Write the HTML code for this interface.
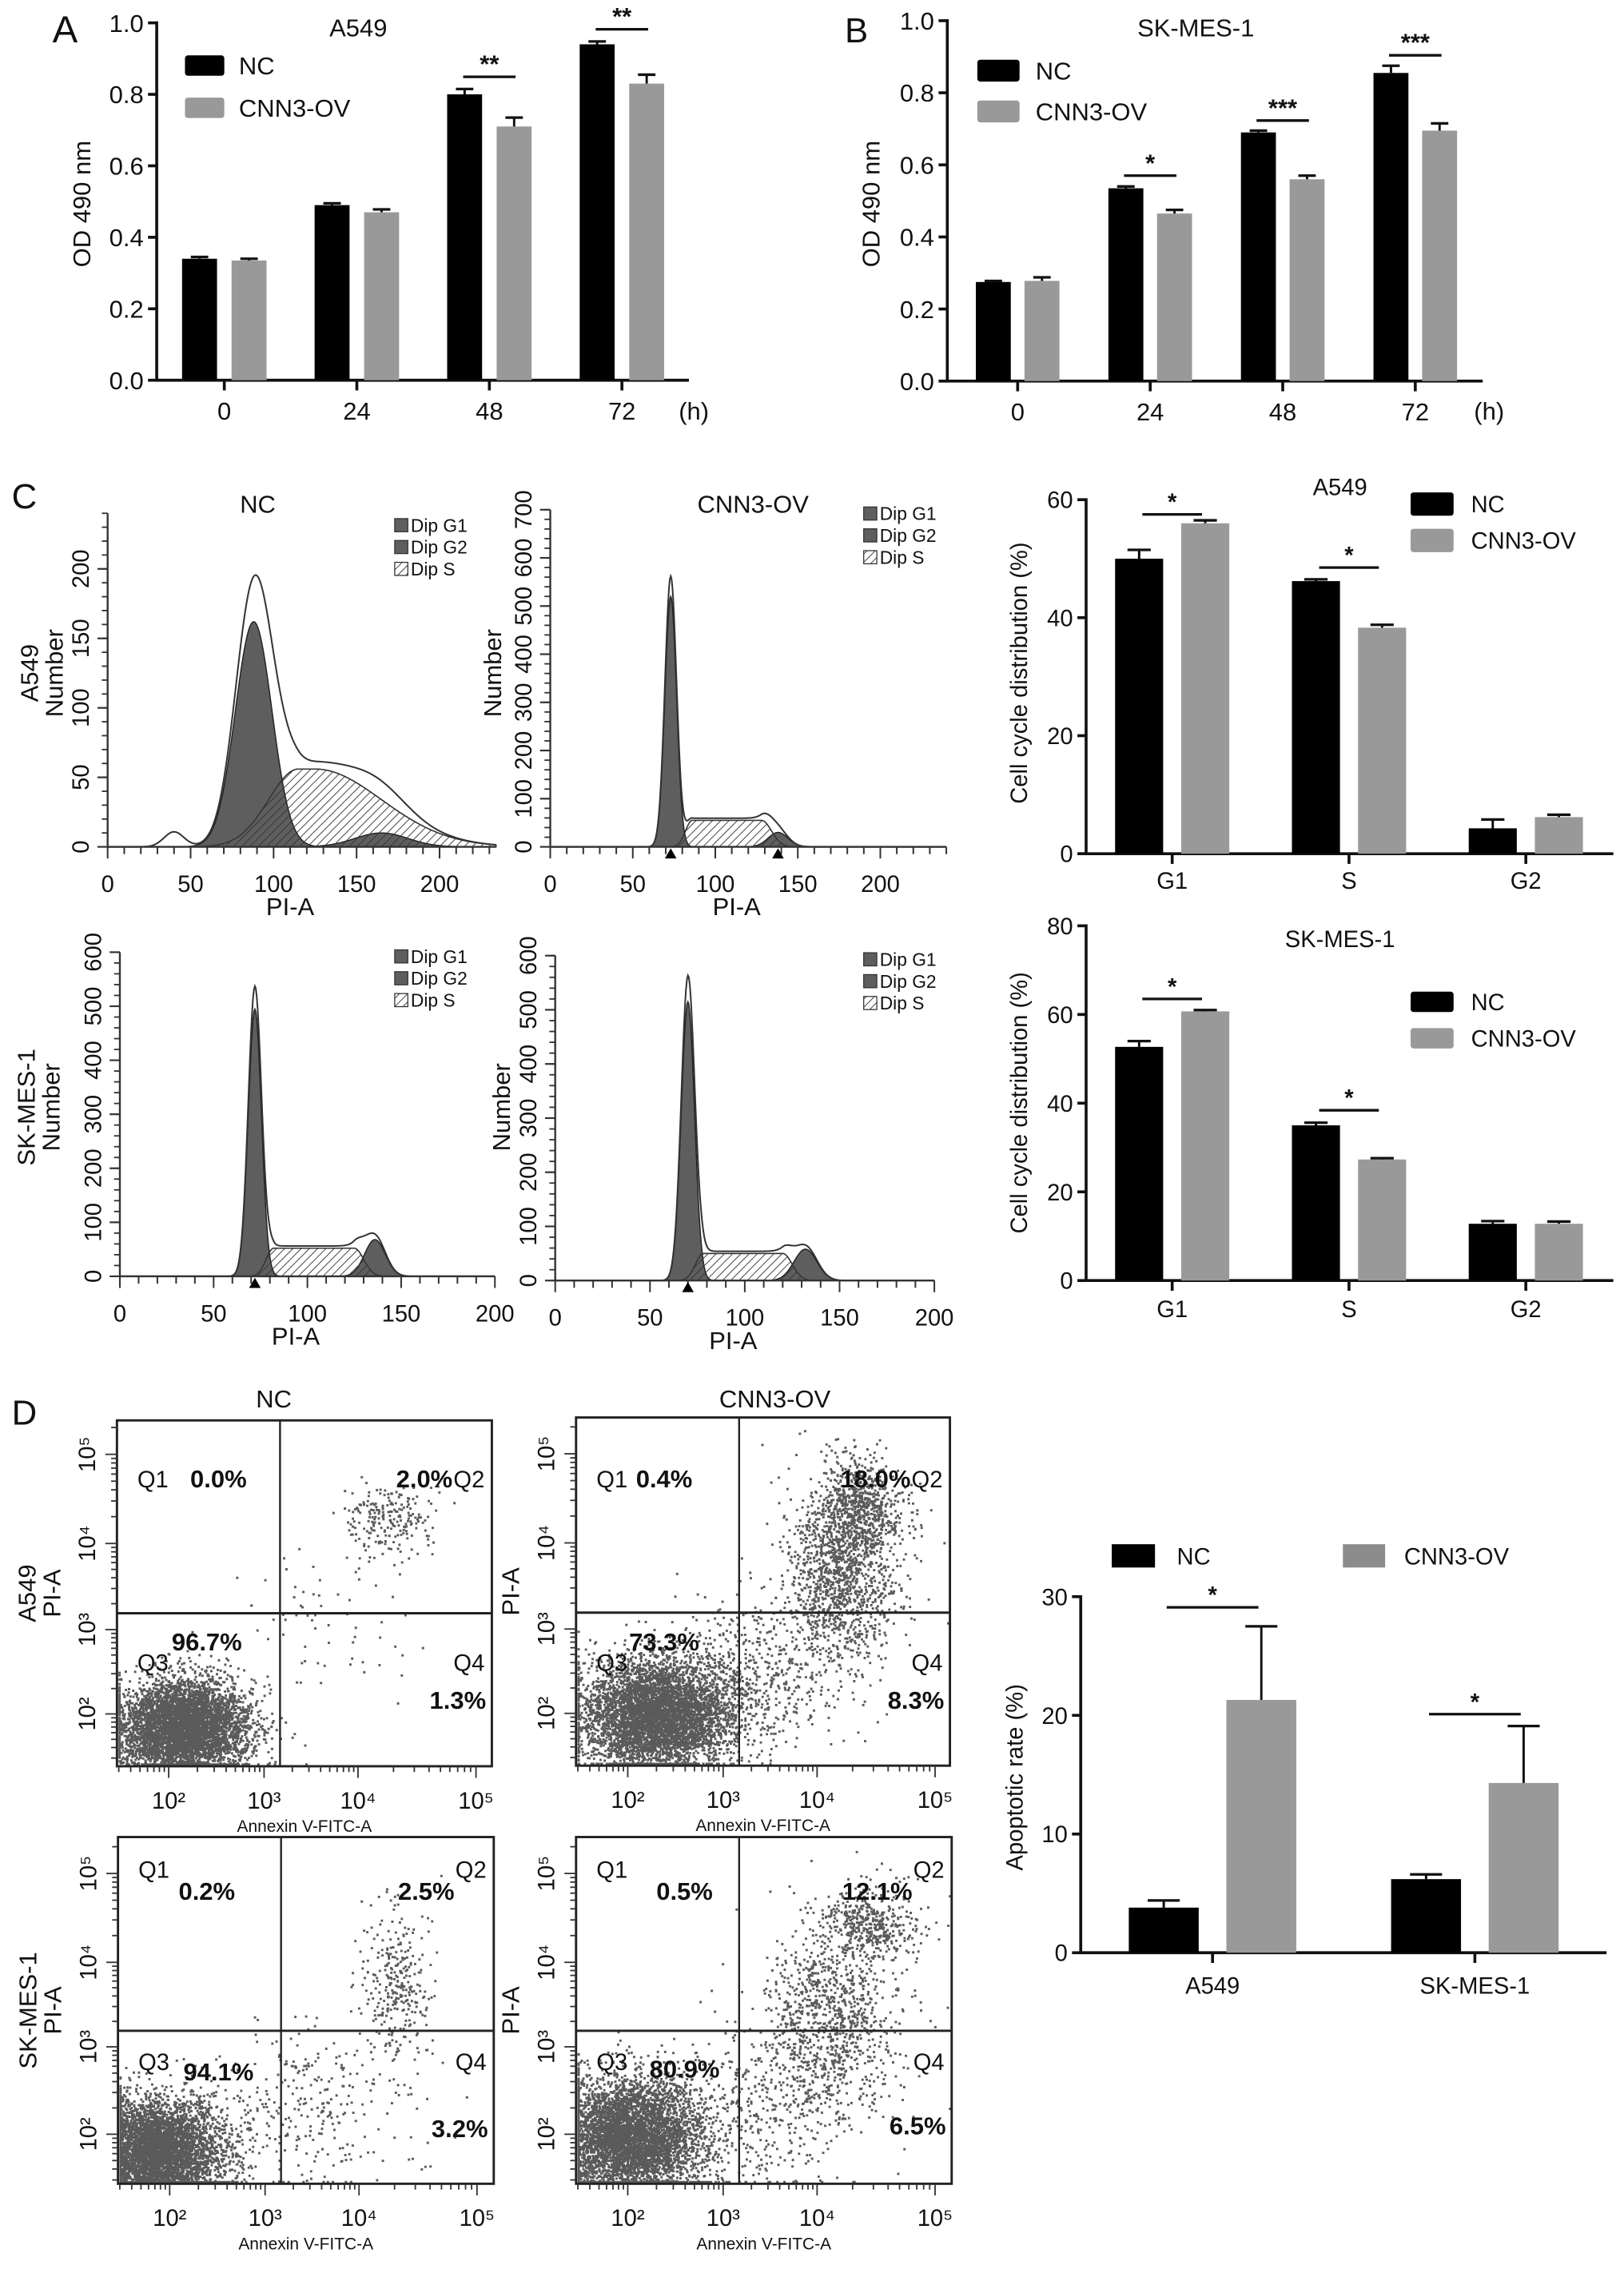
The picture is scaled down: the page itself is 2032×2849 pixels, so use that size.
<!DOCTYPE html>
<html><head><meta charset="utf-8">
<style>
html,body{margin:0;padding:0;background:#fff;}
svg{display:block;}
text{font-family:"Liberation Sans",Arial,sans-serif;fill:#111;}
</style></head>
<body>
<svg id="fig" xmlns="http://www.w3.org/2000/svg" width="2032" height="2849" viewBox="0 0 1115 1563" preserveAspectRatio="none">
<defs>
<pattern id="hatch" patternUnits="userSpaceOnUse" width="4" height="4" patternTransform="rotate(45)">
<line x1="0" y1="0" x2="0" y2="4" stroke="#333" stroke-width="1"/>
</pattern>
</defs>
<rect x="0" y="0" width="1115" height="1563" fill="#fff"/>
</svg>
<script>
// ===== Panel A data =====
const aCats = ['0','24','48','72'];
const aNC = [0.34, 0.49, 0.80, 0.94];
const aOV = [0.335, 0.47, 0.71, 0.83];
const aNCerr = [0.005, 0.005, 0.015, 0.008];
const aOVerr = [0.005, 0.008, 0.025, 0.025];
const aSigIdx = [2, 3];
const aSigLbl = ['**', '**'];
const aSigVal = [0.849, 0.982];
const aTicks = [0, 0.2, 0.4, 0.6, 0.8, 1.0];
// ===== Panel B data =====
const bCats = ['0','24','48','72'];
const bNC = [0.275, 0.535, 0.69, 0.855];
const bOV = [0.278, 0.465, 0.56, 0.695];
const bNCerr = [0.003, 0.005, 0.005, 0.02];
const bOVerr = [0.01, 0.01, 0.01, 0.02];
const bSigIdx = [1, 2, 3];
const bSigLbl = ['*', '***', '***'];
const bSigVal = [0.570, 0.723, 0.904];
const bTicks = [0, 0.2, 0.4, 0.6, 0.8, 1.0];
// ===== Panel C bar charts =====
const cCats = ['G1','S','G2'];
const c1NC = [50.0, 46.2, 4.3];
const c1OV = [56.0, 38.3, 6.2];
const c1NCerr = [1.5, 0.3, 1.5];
const c1OVerr = [0.5, 0.5, 0.4];
const c1SigIdx = [0, 1];
const c1SigVal = [57.5, 48.5];
const c1Ticks = [0, 20, 40, 60];
const c2NC = [52.7, 35.0, 12.8];
const c2OV = [60.7, 27.3, 12.8];
const c2NCerr = [1.3, 0.6, 0.6];
const c2OVerr = [0.3, 0.3, 0.5];
const c2SigIdx = [0, 1];
const c2SigVal = [63.5, 38.4];
const c2Ticks = [0, 20, 40, 60, 80];
// ===== Panel D bar chart =====
const dCats = ['A549','SK-MES-1'];
const dNC = [3.8, 6.2];
const dOV = [21.3, 14.3];
const dNCerr = [0.6, 0.4];
const dOVerr = [6.2, 4.8];
const dSigIdx = [0, 1];
const dSigVal = [29.1, 20.1];
const dTicks = [0, 10, 20, 30];
// ===== Histogram model params: [G1 mu, G1 sd, G1 h, G2 mu, G2 sd, G2 h, S a, S b, S h, S eL, S eR] =====
const hParamsTL = [88, 11, 162, 165, 16, 10, 115, 125, 56, 18, 40];
const hParamsTR = [73, 3.5, 520, 138, 6, 30, 86, 128, 55, 4, 6];
const hParamsBL = [72, 3.5, 495, 136, 5.5, 68, 82, 125, 52, 4, 5];
const hParamsBR = [70, 3.5, 515, 132, 6, 58, 78, 120, 50, 4, 5];
const hDebrisTL = [40, 6, 10];
const hMarkersTR = [73, 138];
const hMarkersBL = [72];
const hMarkersBR = [70];
// ===== Flow cytometry clusters: [xLog, yLog, sdX, sdY, count] =====
const fTL = [[2.15,1.85,0.33,0.28,5200],[4.25,4.25,0.2,0.25,220],[3.6,3.0,0.45,0.55,70]];
const fTR = [[2.3,2.0,0.4,0.33,5200],[4.2,3.6,0.25,0.55,1300],[4.35,4.4,0.18,0.28,700],[3.3,2.5,0.45,0.45,500]];
const fBL = [[1.85,1.8,0.35,0.3,5200],[4.3,3.7,0.15,0.5,320],[3.5,2.3,0.5,0.5,280]];
const fBR = [[2.0,1.95,0.4,0.35,5200],[4.45,4.45,0.2,0.2,400],[4.1,3.4,0.3,0.6,1000],[3.4,2.4,0.5,0.5,450]];
const fPctTL = ['0.0%','2.0%','96.7%','1.3%'];
const fPctTR = ['0.4%','18.0%','73.3%','8.3%'];
const fPctBL = ['0.2%','2.5%','94.1%','3.2%'];
const fPctBR = ['0.5%','12.1%','80.9%','6.5%'];
const fGate = [3.17, 3.19];

const NS = 'http://www.w3.org/2000/svg';
const svg = document.getElementById('fig');
function mk(tag, attrs, txt) {
  const e = document.createElementNS(NS, tag);
  for (const k in attrs) e.setAttribute(k, attrs[k]);
  if (txt !== undefined) e.textContent = txt;
  svg.appendChild(e);
  return e;
}
function line(x1,y1,x2,y2,w,name,col){
  const e = mk('line',{x1:x1,y1:y1,x2:x2,y2:y2,stroke:col||'#111','stroke-width':w});
  
  
  return e;
}
function txt(x,y,s,size,name,extra){
  const a = {x:x,y:y,'font-size':size};
  for (const k in (extra||{})) a[k]=extra[k];
  const e = mk('text',a,s);
  
  
  return e;
}

// ===== generic grouped bar chart =====
function barChart(c, cats, nc, ov, ncE, ovE, sigIdx, sigLbl, sigVal, ticks, pre) {
  const ys = v => c.y0 - v / c.max * (c.y0 - c.yTop);
  const cx = i => c.cx0 + i * c.step;
  line(c.x0, c.y0, c.x0, c.yTop - 1, c.aw, pre + '-y-axis');
  line(c.x0 - 1, c.y0, c.x1, c.y0, c.aw, pre + '-x-axis');
  ticks.forEach(t => {
    line(c.x0 - 6, ys(t), c.x0, ys(t), c.aw, pre + '-y-tick');
    txt(c.x0 - 9, ys(t) + c.fs * 0.36, c.fmt(t), c.fs, pre + '-y-tick-label', {'text-anchor':'end'});
  });
  cats.forEach((s, i) => {
    line(cx(i), c.y0, cx(i), c.y0 + 7, c.aw, pre + '-x-tick');
    txt(cx(i), c.y0 + c.xlOff, s, c.fs, pre + '-x-tick-label', {'text-anchor':'middle'});
  });
  const series = [[nc, ncE, -c.off, '#000', 'nc'], [ov, ovE, c.off, '#999', 'ov']];
  series.forEach(sr => {
    sr[0].forEach((v, i) => {
      const x = cx(i) + sr[2];
      const b = mk('rect', {x: x - c.bw / 2, y: ys(v), width: c.bw, height: c.y0 - ys(v), fill: sr[3]});
      
      
      const top = ys(v + sr[1][i]);
      line(x, ys(v), x, top, 1.6, pre + '-error-bar', sr[4]==='nc'?'#000':'#111');
      line(x - c.cap, top, x + c.cap, top, 1.8, pre + '-error-cap');
    });
  });
  sigIdx.forEach((ci, k) => {
    const y = ys(sigVal[k]);
    const mid = cx(ci) + (c.sigShift || 0);
    line(mid - c.sw, y, mid + c.sw, y, 1.8, pre + '-significance-line');
    txt(mid, y - 3, sigLbl ? sigLbl[k] : '*', c.fs, pre + '-significance-star', {'text-anchor':'middle','font-weight':'bold'});
  });
  return {ys: ys, cx: cx};
}
function legendV(x, y1, y2, w, h, lx, fs, pre) {
  let r = mk('rect', {x:x, y:y1, width:w, height:h, fill:'#000', rx:2});
  
  
  txt(lx, y1 + h / 2 + fs * 0.36, 'NC', fs, pre + '-legend-label-nc');
  r = mk('rect', {x:x, y:y2, width:w, height:h, fill:'#999', rx:2});
  
  
  txt(lx, y2 + h / 2 + fs * 0.36, 'CNN3-OV', fs, pre + '-legend-label-cnn3-ov');
}
function rotText(x, y, s, size, name) {
  const e = txt(0, 0, s, size, name, {'text-anchor':'middle', transform:'translate(' + x + ',' + y + ') rotate(-90)'});
  return e;
}

// ---- Panel A ----
txt(36, 29, 'A', 26, 'panel-label-a');
barChart({x0:107.6,x1:473,y0:261,yTop:15.7,max:1,cx0:154,step:91,bw:24,off:17,cap:6,sw:18,aw:2,fs:17,xlOff:27,fmt:t=>t.toFixed(1),sigShift:0},
  aCats, aNC, aOV, aNCerr, aOVerr, aSigIdx, aSigLbl, aSigVal, aTicks, 'a549-od');
txt(246, 25, 'A549', 17, 'a549-od-title', {'text-anchor':'middle'});
txt(466, 288, '(h)', 17, 'a549-od-x-unit');
rotText(62, 140, 'OD 490 nm', 17, 'a549-od-y-title');
legendV(127, 38, 67, 27, 14, 164, 17, 'a549-od');

// ---- Panel B ----
txt(580, 29, 'B', 24, 'panel-label-b');
barChart({x0:650.4,x1:1018,y0:261.6,yTop:14.2,max:1,cx0:698.7,step:91,bw:24,off:16.7,cap:6,sw:18,aw:2,fs:17,xlOff:27,fmt:t=>t.toFixed(1),sigShift:0},
  bCats, bNC, bOV, bNCerr, bOVerr, bSigIdx, bSigLbl, bSigVal, bTicks, 'skmes-od');
txt(821, 25, 'SK-MES-1', 17, 'skmes-od-title', {'text-anchor':'middle'});
txt(1012, 288, '(h)', 17, 'skmes-od-x-unit');
rotText(604, 140, 'OD 490 nm', 17, 'skmes-od-y-title');
legendV(671, 41, 69, 29, 15, 711, 17, 'skmes-od');

// ---- Panel C bar charts ----
txt(8, 349, 'C', 24, 'panel-label-c');
barChart({x0:745.7,x1:1107.7,y0:586,yTop:343,max:60,cx0:804.8,step:121.4,bw:33,off:22.7,cap:8,sw:20.5,aw:2,fs:16,xlOff:24,fmt:t=>String(t),sigShift:0},
  cCats, c1NC, c1OV, c1NCerr, c1OVerr, c1SigIdx, null, c1SigVal, c1Ticks, 'a549-cycle');
txt(920, 340, 'A549', 16, 'a549-cycle-title', {'text-anchor':'middle'});
rotText(705, 462, 'Cell cycle distribution (%)', 16, 'a549-cycle-y-title');
legendV(968.5, 338, 363, 29.5, 16, 1010, 16, 'a549-cycle');
barChart({x0:745.7,x1:1107.7,y0:879,yTop:635.5,max:80,cx0:804.8,step:121.4,bw:33,off:22.7,cap:8,sw:20.5,aw:2,fs:16,xlOff:25,fmt:t=>String(t),sigShift:0},
  cCats, c2NC, c2OV, c2NCerr, c2OVerr, c2SigIdx, null, c2SigVal, c2Ticks, 'skmes-cycle');
txt(920, 650, 'SK-MES-1', 16, 'skmes-cycle-title', {'text-anchor':'middle'});
rotText(705, 757, 'Cell cycle distribution (%)', 16, 'skmes-cycle-y-title');
legendV(968.5, 680.7, 705.7, 29.5, 14, 1010, 16, 'skmes-cycle');

// ---- Panel D bar chart ----
barChart({x0:742,x1:1103,y0:1340.4,yTop:1096,max:30,cx0:832.5,step:180.1,bw:48,off:33.5,cap:11,sw:31.5,aw:2,fs:16,xlOff:28,fmt:t=>String(t),sigShift:0},
  dCats, dNC, dOV, dNCerr, dOVerr, dSigIdx, null, dSigVal, dTicks, 'apoptosis');
rotText(702, 1220, 'Apoptotic rate (%)', 16, 'apoptosis-y-title');
(function(){
  let r = mk('rect',{x:763.3,y:1060,width:29.7,height:16,fill:'#000'});
  
  
  txt(808, 1074, 'NC', 16, 'apoptosis-legend-label-nc');
  r = mk('rect',{x:922,y:1060,width:29,height:16,fill:'#8c8c8c'});
  
  
  txt(964, 1074, 'CNN3-OV', 16, 'apoptosis-legend-label-cnn3-ov');
})();

// ===== Histograms =====
function comps(p, x) {
  const g1 = p[2] * Math.exp(-0.5 * Math.pow((x - p[0]) / p[1], 2));
  const g2 = p[5] * Math.exp(-0.5 * Math.pow((x - p[3]) / p[4], 2));
  let s;
  if (x < p[6]) s = p[8] * Math.exp(-0.5 * Math.pow((x - p[6]) / p[9], 2));
  else if (x > p[7]) s = p[8] * Math.exp(-0.5 * Math.pow((x - p[7]) / p[10], 2));
  else s = p[8];
  return [g1, g2, s];
}
function histogram(c, p, debris, markers, pre) {
  const X = v => c.ox + v * c.xs;
  const Y = v => c.oy - v * c.ys;
  const areaPath = (f) => {
    let d = 'M' + X(0) + ' ' + Y(0);
    for (let x = 0; x <= c.xmax; x += 0.5) d += ' L' + X(x).toFixed(2) + ' ' + Y(f(x)).toFixed(2);
    return d + ' L' + X(c.xmax) + ' ' + Y(0) + ' Z';
  };
  let e = mk('path', {d: areaPath(x => comps(p, x)[2]), fill:'#fff', stroke:'#333','stroke-width':0.8});
  
  
  e = mk('path', {d: areaPath(x => comps(p, x)[0]), fill:'#5e5e5e', stroke:'#222','stroke-width':0.8});
  
  
  e = mk('path', {d: areaPath(x => comps(p, x)[1]), fill:'#5e5e5e', stroke:'#222','stroke-width':0.8});
  
  
  e = mk('path', {d: areaPath(x => comps(p, x)[2]), fill:'url(#hatch)', stroke:'#333','stroke-width':0.8});
  
  
  let d = '';
  for (let x = 0; x <= c.xmax; x += 0.5) {
    const cc = comps(p, x);
    let v = cc[0] + cc[1] + cc[2];
    if (debris) v += debris[2] * Math.exp(-0.5 * Math.pow((x - debris[0]) / debris[1], 2));
    v = v * 1.08;
    d += (d ? ' L' : 'M') + X(x).toFixed(2) + ' ' + Y(v).toFixed(2);
  }
  e = mk('path', {d: d, fill:'none', stroke:'#333','stroke-width':1.1});
  
  
  // axes
  line(c.ox, c.oy, c.ox, Y(c.ytop), 1.3, pre + '-y-axis', '#333');
  line(c.ox, c.oy, X(c.xmax), c.oy, 1.3, pre + '-x-axis', '#333');
  for (let v = 0; v <= c.ytop; v += c.yminor) line(c.ox - 4, Y(v), c.ox, Y(v), 1, pre + '-y-minor-tick', '#333');
  c.yticks.forEach(v => {
    line(c.ox - 7, Y(v), c.ox, Y(v), 1.2, pre + '-y-tick', '#333');
    rotText(c.ox - 13, Y(v), String(v), 16, pre + '-y-tick-label');
  });
  for (let v = 0; v <= c.xmax; v += 10) line(X(v), c.oy, X(v), c.oy + (v % 50 === 0 ? 8 : 5), 1.1, pre + '-x-tick', '#333');
  c.xticks.forEach(v => txt(X(v), c.oy + 31, String(v), 16, pre + '-x-tick-label', {'text-anchor':'middle'}));
  txt((c.ox + X(c.xmax)) / 2 - 8, c.oy + 47, 'PI-A', 17, pre + '-x-title', {'text-anchor':'middle'});
  markers.forEach(m => {
    e = mk('path', {d: 'M' + (X(m) - 4) + ' ' + (c.oy + 8) + ' L' + X(m) + ' ' + (c.oy + 1) + ' L' + (X(m) + 4) + ' ' + (c.oy + 8) + ' Z', fill:'#000'});
    
    
  });
  // legend
  const lab = ['Dip G1','Dip G2','Dip S'];
  lab.forEach((s, i) => {
    const y = c.ly + i * 15;
    e = mk('rect', {x: c.lx, y: y - 9, width: 9, height: 9, fill: i < 2 ? '#5e5e5e' : 'url(#hatch)', stroke:'#333','stroke-width':0.7});
    
    
    txt(c.lx + 11, y, s, 12.5, pre + '-legend-label');
  });
}
histogram({ox:73.9,xs:1.1395,oy:581.3,ys:0.954,xmax:234,ytop:240,yminor:10,yticks:[0,50,100,150,200],xticks:[0,50,100,150,200],lx:271,ly:365},
  hParamsTL, hDebrisTL, [], 'a549-nc-hist');
histogram({ox:377.8,xs:1.133,oy:581.3,ys:0.3306,xmax:240,ytop:700,yminor:20,yticks:[0,100,200,300,400,500,600,700],xticks:[0,50,100,150,200],lx:593,ly:357},
  hParamsTR, null, hMarkersTR, 'a549-ov-hist');
histogram({ox:82.3,xs:1.2875,oy:876.1,ys:0.3708,xmax:200,ytop:600,yminor:20,yticks:[0,100,200,300,400,500,600],xticks:[0,50,100,150,200],lx:271,ly:661},
  hParamsBL, null, hMarkersBL, 'skmes-nc-hist');
histogram({ox:381.2,xs:1.3015,oy:879,ys:0.3717,xmax:200,ytop:600,yminor:20,yticks:[0,100,200,300,400,500,600],xticks:[0,50,100,150,200],lx:593,ly:663},
  hParamsBR, null, hMarkersBR, 'skmes-ov-hist');
txt(177, 352, 'NC', 17, 'cycle-nc-title', {'text-anchor':'middle'});
txt(517, 352, 'CNN3-OV', 17, 'cycle-ov-title', {'text-anchor':'middle'});
rotText(26, 462, 'A549', 17, 'a549-hist-row-label');
rotText(43, 462, 'Number', 17, 'a549-nc-hist-y-title');
rotText(344, 462, 'Number', 17, 'a549-ov-hist-y-title');
rotText(24, 760, 'SK-MES-1', 17, 'skmes-hist-row-label');
rotText(41, 760, 'Number', 17, 'skmes-nc-hist-y-title');
rotText(350, 760, 'Number', 17, 'skmes-ov-hist-y-title');

// ===== Flow cytometry plots =====
let seed = 12345;
function rnd() { seed |= 0; seed = seed + 0x6D2B79F5 | 0; let t = Math.imul(seed ^ seed >>> 15, 1 | seed); t = t + Math.imul(t ^ t >>> 7, 61 | t) ^ t; return ((t ^ t >>> 14) >>> 0) / 4294967296; }
function gauss() { let u = 0, v = 0; while (u === 0) u = rnd(); v = rnd(); return Math.sqrt(-2 * Math.log(u)) * Math.cos(2 * Math.PI * v); }
const fxDec = [2,3,4,5], fxOff = [35.5,101,165.5,246.5];
function interp(v, decs, offs) {
  if (v <= decs[0]) return offs[0] + (v - decs[0]) * (offs[1] - offs[0]);
  for (let i = 0; i < decs.length - 1; i++) if (v <= decs[i + 1]) return offs[i] + (v - decs[i]) / (decs[i + 1] - decs[i]) * (offs[i + 1] - offs[i]);
  const n = decs.length - 1;
  return offs[n] + (v - decs[n]) * (offs[n] - offs[n - 1]);
}
function flowPlot(c, clusters, pct, pre, rowLabel) {
  const W = c.x1 - c.x0, H = c.y1 - c.y0;
  const X = lv => c.x0 + interp(lv, fxDec, fxOff);
  const Y = lv => c.y1 - interp(lv, fxDec, c.yOffRev);
  // dots
  let d = '';
  clusters.forEach(cl => {
    for (let i = 0; i < cl[4]; i++) {
      let px = X(cl[0] + gauss() * cl[2]), py = Y(cl[1] + gauss() * cl[3]);
      px = Math.min(Math.max(px, c.x0 + 1), c.x1 - 2);
      py = Math.min(Math.max(py, c.y0 + 1), c.y1 - 2);
      d += 'M' + px.toFixed(1) + ' ' + py.toFixed(1) + 'h1.6v1.6h-1.6z';
    }
  });
  let e = mk('path', {d: d, fill:'#5a5a5a'});
  
  
  e = mk('rect', {x:c.x0, y:c.y0, width:W, height:H, fill:'none', stroke:'#222','stroke-width':1.6});
  
  
  const gx = X(fGate[0]), gy = Y(fGate[1]);
  line(gx, c.y0, gx, c.y1, 1.3, pre + '-quadrant-gate-vertical', '#222');
  line(c.x0, gy, c.x1, gy, 1.6, pre + '-quadrant-gate-horizontal', '#222');
  // ticks
  for (let dcd = 1; dcd <= 5; dcd++) for (let m = 1; m <= 9; m++) {
    const lv = dcd + Math.log10(m);
    const tx = X(lv), ty = Y(lv);
    const len = m === 1 ? 8 : 4;
    if (tx > c.x0 && tx < c.x1) line(tx, c.y1, tx, c.y1 + len, 1, pre + '-x-tick', '#333');
    if (ty > c.y0 && ty < c.y1) line(c.x0 - len, ty, c.x0, ty, 1, pre + '-y-tick', '#333');
  }
  const sup = {2:'²',3:'³',4:'⁴',5:'⁵'};
  fxDec.forEach(dc => {
    txt(X(dc), c.y1 + 29, '10' + sup[dc], 16, pre + '-x-tick-label', {'text-anchor':'middle'});
    rotText(c.x0 - 15, Y(dc), '10' + sup[dc], 16, pre + '-y-tick-label');
  });
  txt((c.x0 + c.x1) / 2, c.y1 + 45, 'Annexin V-FITC-A', 11.5, pre + '-x-title', {'text-anchor':'middle'});
  rotText(c.x0 - 39, (c.y0 + c.y1) / 2, 'PI-A', 17, pre + '-y-title');
  if (rowLabel) rotText(c.x0 - 56, (c.y0 + c.y1) / 2, rowLabel, 17, pre + '-row-label');
  // quadrant labels
  const q = c.q;
  txt(c.x0 + 14, q[0], 'Q1', 16, pre + '-q1-label');
  txt(c.x1 - 5, q[0], 'Q2', 16, pre + '-q2-label', {'text-anchor':'end'});
  txt(c.x0 + 14, q[2], 'Q3', 16, pre + '-q3-label');
  txt(c.x1 - 5, q[2], 'Q4', 16, pre + '-q4-label', {'text-anchor':'end'});
  txt(c.p1x, q[1], pct[0], 17, pre + '-q1-percent', {'font-weight':'bold','text-anchor':'middle'});
  txt(c.x1 - 27, q[1], pct[1], 17, pre + '-q2-percent', {'font-weight':'bold','text-anchor':'end'});
  txt(c.p3x, q[3], pct[2], 17, pre + '-q3-percent', {'font-weight':'bold','text-anchor':'middle'});
  txt(c.x1 - 4, q[4], pct[3], 17, pre + '-q4-percent', {'font-weight':'bold','text-anchor':'end'});
}
const yRevTop = [237.4-201.5, 237.4-143.6, 237.4-84.5, 237.4-23.3];
const yRevBot = [238-204, 238-144, 238-86, 238-25];
txt(8, 978, 'D', 24, 'panel-label-d');
txt(188, 966, 'NC', 17, 'apoptosis-nc-title', {'text-anchor':'middle'});
txt(532, 966, 'CNN3-OV', 17, 'apoptosis-ov-title', {'text-anchor':'middle'});
flowPlot({x0:80.3,x1:337.7,y0:975,y1:1212.4,yOffRev:yRevTop,q:[1021,1021,1147,1133,1173],p1x:150,p3x:142}, fTL, fPctTL, 'a549-nc-flow', 'A549');
flowPlot({x0:395.5,x1:652.2,y0:973,y1:1212,yOffRev:yRevTop,q:[1021,1021,1147,1133,1173],p1x:456,p3x:456}, fTR, fPctTR, 'a549-ov-flow', null);
flowPlot({x0:81,x1:339,y0:1261,y1:1499,yOffRev:yRevBot,q:[1289,1304,1421,1428,1467],p1x:142,p3x:150}, fBL, fPctBL, 'skmes-nc-flow', 'SK-MES-1');
flowPlot({x0:395.5,x1:653.4,y0:1261,y1:1499,yOffRev:yRevBot,q:[1289,1304,1421,1426,1465],p1x:470,p3x:470}, fBR, fPctBR, 'skmes-ov-flow', null);
</script>
</body></html>
